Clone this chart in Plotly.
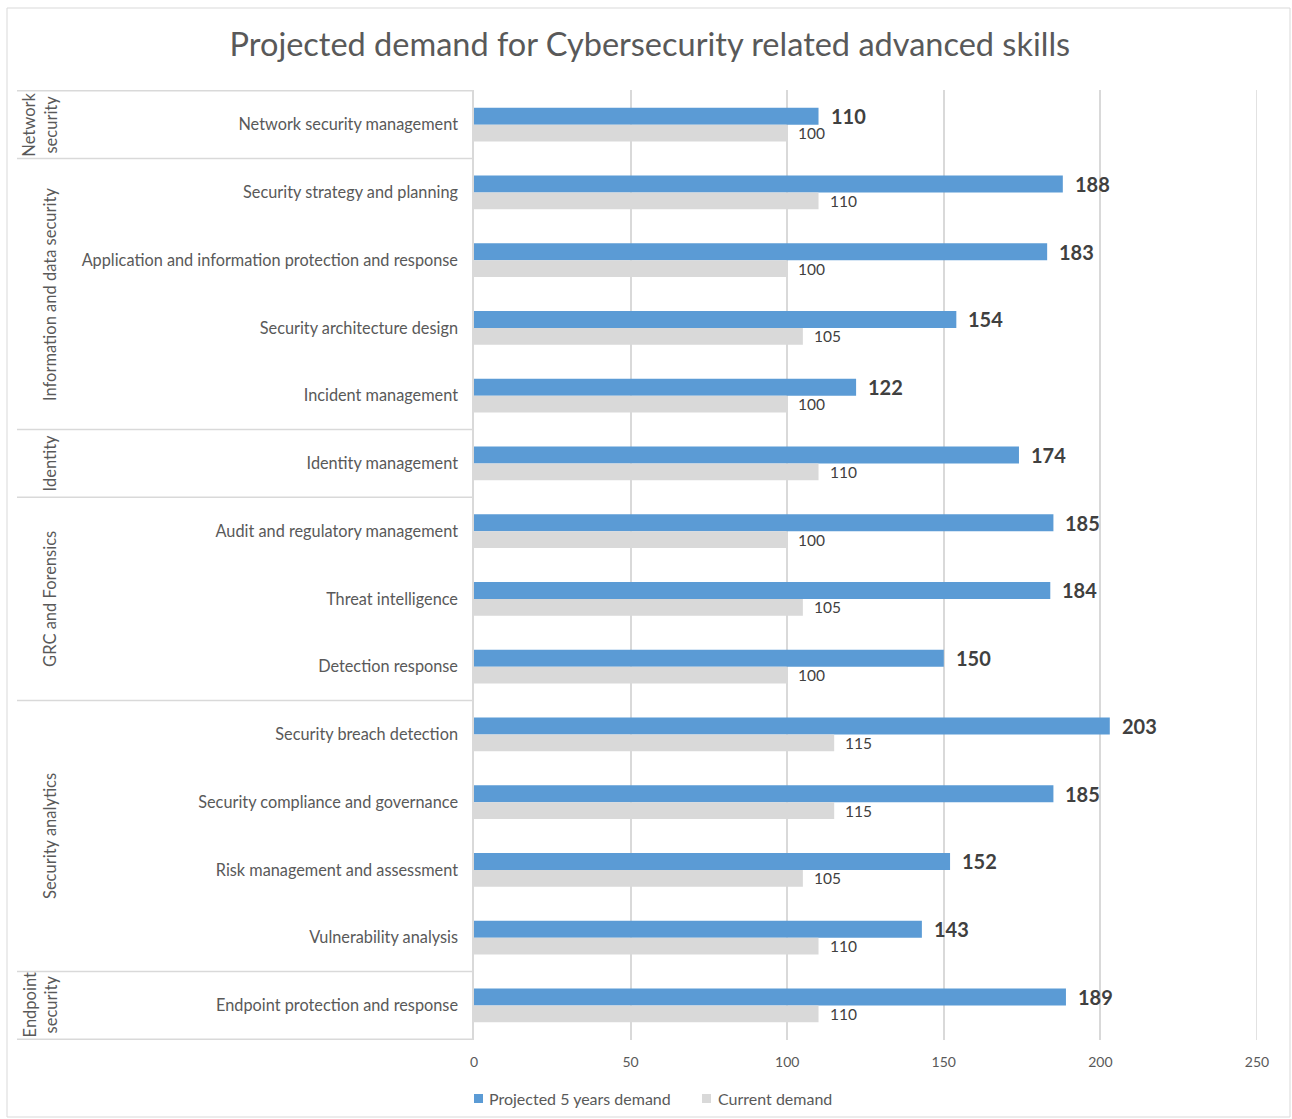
import plotly.graph_objects as go

# Skills (top to bottom) with their skill-area groups
skills = [
    "Network security management",
    "Security strategy and planning",
    "Application and information protection and response",
    "Security architecture design",
    "Incident management",
    "Identity management",
    "Audit and regulatory management",
    "Threat intelligence",
    "Detection response",
    "Security breach detection",
    "Security compliance and governance",
    "Risk management and assessment",
    "Vulnerability analysis",
    "Endpoint protection and response",
]
projected_5y = [110, 188, 183, 154, 122, 174, 185, 184, 150, 203, 185, 152, 143, 189]
current = [100, 110, 100, 105, 100, 110, 100, 105, 100, 115, 115, 105, 110, 110]

group_names = ["Network<br>security", "Information and data security", "Identity",
               "GRC and Forensics", "Security analytics", "Endpoint<br>security"]
group_sizes = [1, 4, 1, 3, 4, 1]

series_names = ["Projected 5 years demand", "Current demand"]
x_ticks = [0, 50, 100, 150, 200, 250]

W, H = 1292, 1119
L, R, T, B = 474, 1257, 90, 1040   # plot-area edges in pixels

BLUE = "#5B9BD5"
GREY = "#D9D9D9"
LINE = "#D9D9D9"
TXT = "#595959"
FONT = "Lato"


def px_x(p):
    return (p - L) / (R - L)


def px_y(p):
    return (B - p) / (B - T)


fig = go.Figure()
fig.add_trace(go.Bar(y=skills, x=projected_5y, orientation="h", name=series_names[0],
                     marker=dict(color=BLUE, line=dict(width=0)), hoverinfo="x+y"))
fig.add_trace(go.Bar(y=skills, x=current, orientation="h", name=series_names[1],
                     marker=dict(color=GREY, line=dict(width=0)), hoverinfo="x+y"))

annotations = []
# value labels next to each bar end
for s, v in zip(skills, projected_5y):
    annotations.append(dict(x=v, y=s, xref="x", yref="y", text=str(v), showarrow=False,
                            xanchor="left", yanchor="middle", xshift=10, yshift=8.5,
                            font=dict(family=FONT, size=20, color="#404040", weight=700)))
for s, v in zip(skills, current):
    annotations.append(dict(x=v, y=s, xref="x", yref="y", text=str(v), showarrow=False,
                            xanchor="left", yanchor="middle", xshift=9, yshift=-8.5,
                            font=dict(family=FONT, size=15.5, color="#404040")))

shapes = []
# group separators and rotated group labels
start = 0
bounds = [-0.5]
for name, n in zip(group_names, group_sizes):
    end = start + n
    bounds.append(end - 0.5)
    two_line = "<br>" in name
    annotations.append(dict(x=px_x(40 if two_line else 50), y=(start + end - 1) / 2,
                            xref="paper", yref="y", text=name, showarrow=False,
                            textangle=-90, xanchor="center", yanchor="middle",
                            font=dict(family=FONT, size=16.5, color=TXT)))
    start = end
for b in bounds:
    shapes.append(dict(type="line", xref="paper", yref="y", x0=px_x(17), x1=0, y0=b, y1=b,
                       line=dict(color=LINE, width=1.5)))

# gridline at the far end of the value axis
shapes.append(dict(type="line", xref="x", yref="paper", x0=x_ticks[-1], x1=x_ticks[-1],
                   y0=0, y1=1, line=dict(color=LINE, width=1.5), layer="below"))

# legend: small squares with labels under the value axis
legend_items = [(474, 487, BLUE, series_names[0]), (702, 716, GREY, series_names[1])]
for sq_x, tx_x, col, label in legend_items:
    shapes.append(dict(type="rect", xref="paper", yref="paper",
                       x0=px_x(sq_x), x1=px_x(sq_x + 9), y0=px_y(1103), y1=px_y(1094),
                       fillcolor=col, line=dict(width=0)))
    annotations.append(dict(x=px_x(tx_x), y=px_y(1098), xref="paper", yref="paper",
                            text=label, showarrow=False, xanchor="left", yanchor="middle",
                            font=dict(family=FONT, size=16, color=TXT)))

# outer chart border
shapes.append(dict(type="rect", xref="paper", yref="paper", x0=px_x(7), x1=px_x(1290),
                   y0=px_y(1117), y1=px_y(8), line=dict(color=LINE, width=1),
                   fillcolor="rgba(0,0,0,0)", layer="below"))

fig.update_layout(
    width=W, height=H,
    margin=dict(l=L, r=W - R, t=T, b=H - B, autoexpand=False),
    paper_bgcolor="white", plot_bgcolor="white",
    barmode="group", bargap=0.5, bargroupgap=0,
    title=dict(text="Projected demand for Cybersecurity related advanced skills",
               x=0.503, xanchor="center", y=1 - 45 / H, yanchor="middle",
               font=dict(family=FONT, size=32.5, color=TXT)),
    font=dict(family=FONT, color=TXT),
    xaxis=dict(range=[0, 250], tickvals=x_ticks, showgrid=True,
               gridcolor=LINE, gridwidth=1.5, zeroline=False, showline=False,
               ticks="", ticklabelstandoff=12, tickfont=dict(family=FONT, size=14, color=TXT),
               fixedrange=True),
    yaxis=dict(autorange="reversed", showgrid=False, showline=True, linecolor=LINE,
               linewidth=1.5, ticks="", ticklabelstandoff=11,
               tickfont=dict(family=FONT, size=16.3, color=TXT), fixedrange=True),
    annotations=annotations,
    shapes=shapes,
    showlegend=False,
)

fig.write_html("out.html")
